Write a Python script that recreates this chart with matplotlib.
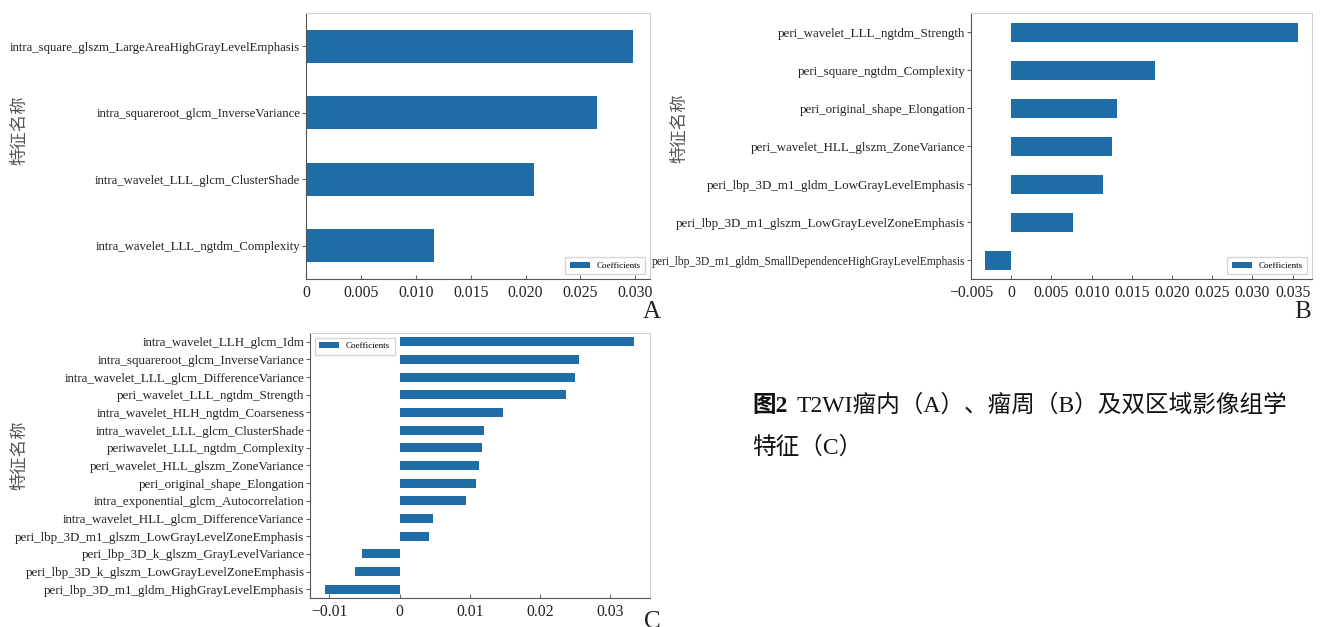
import matplotlib.pyplot as plt
import numpy as np

plt.rcParams['font.family'] = ['Liberation Serif', 'Noto Sans CJK SC', 'DejaVu Sans']
plt.rcParams['axes.unicode_minus'] = True

# --- data (listed top to bottom as in the figure) ---
feat_a = [
    "intra_square_glszm_LargeAreaHighGrayLevelEmphasis",
    "intra_squareroot_glcm_InverseVariance",
    "intra_wavelet_LLL_glcm_ClusterShade",
    "intra_wavelet_LLL_ngtdm_Complexity",
]
coef_a = [0.0298, 0.02655, 0.0208, 0.01165]

feat_b = [
    "peri_wavelet_LLL_ngtdm_Strength",
    "peri_square_ngtdm_Complexity",
    "peri_original_shape_Elongation",
    "peri_wavelet_HLL_glszm_ZoneVariance",
    "peri_lbp_3D_m1_gldm_LowGrayLevelEmphasis",
    "peri_lbp_3D_m1_glszm_LowGrayLevelZoneEmphasis",
    "peri_lbp_3D_m1_gldm_SmallDependenceHighGrayLevelEmphasis",
]
coef_b = [0.0356, 0.01785, 0.0132, 0.01247, 0.0114, 0.00767, -0.0032]

feat_c = [
    "intra_wavelet_LLH_glcm_Idm",
    "intra_squareroot_glcm_InverseVariance",
    "intra_wavelet_LLL_glcm_DifferenceVariance",
    "peri_wavelet_LLL_ngtdm_Strength",
    "intra_wavelet_HLH_ngtdm_Coarseness",
    "intra_wavelet_LLL_glcm_ClusterShade",
    "periwavelet_LLL_ngtdm_Complexity",
    "peri_wavelet_HLL_glszm_ZoneVariance",
    "peri_original_shape_Elongation",
    "intra_exponential_glcm_Autocorrelation",
    "intra_wavelet_HLL_glcm_DifferenceVariance",
    "peri_lbp_3D_m1_glszm_LowGrayLevelZoneEmphasis",
    "peri_lbp_3D_k_glszm_GrayLevelVariance",
    "peri_lbp_3D_k_glszm_LowGrayLevelZoneEmphasis",
    "peri_lbp_3D_m1_gldm_HighGrayLevelEmphasis",
]
coef_c = [0.0334, 0.0256, 0.0250, 0.0237, 0.0147, 0.0120, 0.01176, 0.01128,
          0.01086, 0.00948, 0.0048, 0.0042, -0.0054, -0.0063, -0.0106]

ticks_a = [0, 0.005, 0.010, 0.015, 0.020, 0.025, 0.030]
tick_labels_a = ["0", "0.005", "0.010", "0.015", "0.020", "0.025", "0.030"]
ticks_b = [-0.005, 0, 0.005, 0.010, 0.015, 0.020, 0.025, 0.030, 0.035]
tick_labels_b = ["\u22120.005", "0", "0.005", "0.010", "0.015", "0.020", "0.025", "0.030", "0.035"]
ticks_c = [-0.01, 0, 0.01, 0.02, 0.03]
tick_labels_c = ["\u22120.01", "0", "0.01", "0.02", "0.03"]

BAR = '#1f6ca6'

fig = plt.figure(figsize=(13.22, 6.27), dpi=100)


def panel(rect, feats, coefs, ticks, tlabels, xlim, ylab_fs, leg_loc):
    ax = fig.add_axes(rect)
    n = len(feats)
    y = np.arange(n)[::-1]
    ax.barh(y, coefs, height=0.5, color=BAR, label='Coefficients')
    ax.set_ylim(-0.5, n - 0.5)
    ax.set_xlim(*xlim)
    ax.set_yticks(y)
    ax.set_yticklabels(feats, fontsize=ylab_fs, color='#222222')
    ax.set_xticks(ticks)
    ax.set_xticklabels(tlabels, fontsize=11.3, color='#222222')
    ax.tick_params(axis='x', direction='in', length=3, color='#666666', pad=4)
    ax.tick_params(axis='y', direction='out', length=3, color='#666666', pad=1)
    for s in ['top', 'right']:
        ax.spines[s].set_color('#d0d0d0')
    for s in ['left', 'bottom']:
        ax.spines[s].set_color('#555555')
    leg = ax.legend(loc=leg_loc, fontsize=6.5, handlelength=2.2, fancybox=False,
                    borderpad=0.5)
    leg.get_frame().set_edgecolor('#cccccc')
    return ax


panel([306 / 1322, 1 - 279 / 627, 344 / 1322, 266 / 627], feat_a, coef_a,
      ticks_a, tick_labels_a, (0, 0.03134), 9.2, 'lower right')
ax_b = panel([971 / 1322, 1 - 279 / 627, 341 / 1322, 266 / 627], feat_b, coef_b,
             ticks_b, tick_labels_b, (-0.0050, 0.0374), 9.4, 'lower right')
# the longest label in B is printed narrower in the source
ax_b.get_yticklabels()[-1].set_fontsize(8.3)
panel([310 / 1322, 1 - 598 / 627, 340 / 1322, 265 / 627], feat_c, coef_c,
      ticks_c, tick_labels_c, (-0.01278, 0.0357), 9.4, 'upper left')

# y-axis titles
for (px, py) in [(19, 130), (679, 128), (19, 455)]:
    fig.text(px / 1322, 1 - py / 627, "特征名称", rotation=90, fontsize=12.5,
             color='#555555', ha='center', va='center',
             family=['Noto Sans CJK SC'], fontweight='light')

# panel letters
for (lab, px, py) in [("A", 652, 312), ("B", 1303, 312), ("C", 652, 622)]:
    fig.text(px / 1322, 1 - py / 627, lab, fontsize=18, color='#222222',
             ha='center', va='center')

# caption
fig.text(752 / 1322, 1 - 406 / 627, "图2", fontsize=17, fontweight='bold',
         ha='left', va='center', color='#111111')
fig.text(797 / 1322, 1 - 406 / 627, "T2WI瘤内（A）、瘤周（B）及双区域影像组学",
         fontsize=17, ha='left', va='center', color='#111111')
fig.text(752 / 1322, 1 - 447 / 627, "特征（C）", fontsize=17,
         ha='left', va='center', color='#111111')

plt.savefig('out.png', dpi=100)
plt.close(fig)
